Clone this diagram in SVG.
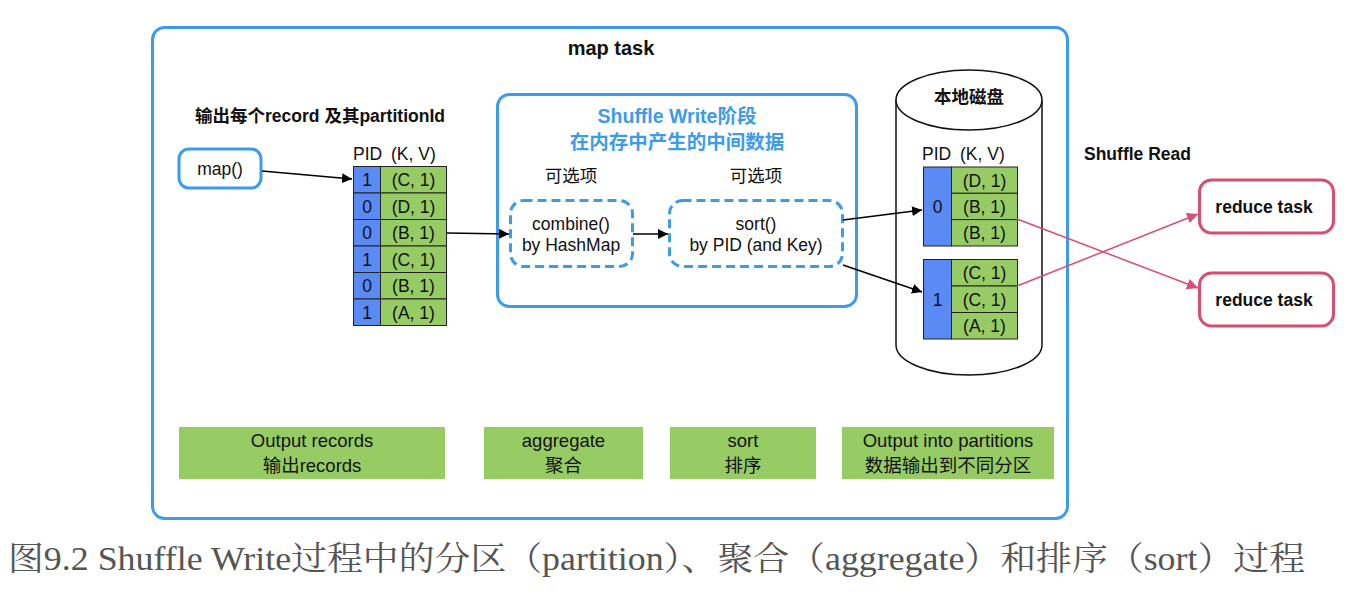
<svg xmlns="http://www.w3.org/2000/svg" width="1350" height="591" viewBox="0 0 1350 591">
<defs>
<style>
text{font-family:"Liberation Sans","Noto Sans CJK SC",sans-serif;fill:#111;}
.b{font-weight:bold;}
.c{text-anchor:middle;}
.t17{font-size:17.5px;}
.t18{font-size:18.5px;}
.frame{fill:#fff;stroke:#3d9be9;stroke-width:3;}
.dash{fill:#fff;stroke:#3d9be9;stroke-width:3;stroke-dasharray:9,5;}
.pid{fill:#5a8bf5;stroke:#222;stroke-width:1;}
.kv{fill:#97cc64;stroke:#222;stroke-width:1;}
.lab{fill:#97cc64;stroke:none;}
.red{fill:#fff;stroke:#d64f73;stroke-width:3;}
.conn{stroke:#000;stroke-width:1.5;fill:none;}
.rconn{stroke:#d64f73;stroke-width:1.5;fill:none;}
</style>
<marker id="ab" viewBox="0 0 10 10" refX="10" refY="5" markerWidth="10" markerHeight="10" markerUnits="userSpaceOnUse" orient="auto"><path d="M0,0L10,5L0,10z" fill="#000"/></marker>
<marker id="ar" viewBox="0 0 10 10" refX="10" refY="5" markerWidth="11" markerHeight="11" markerUnits="userSpaceOnUse" orient="auto"><path d="M0,0L10,5L0,10z" fill="#d64f73"/></marker>
</defs>
<rect width="1350" height="591" fill="#fff"/>

<g id="map-task">
<rect class="frame" x="152.5" y="27.5" width="915" height="491" rx="12"/>
<text class="b c" x="611" y="55" style="font-size:20px">map task</text>
</g>

<g id="output-title">
<text class="b c" x="320" y="122" style="font-size:17.5px">输出每个record 及其partitionId</text>
</g>

<g id="map-fn">
<rect class="frame" x="179" y="149" width="82" height="39" rx="10"/>
<text class="c t17" x="220" y="175">map()</text>
</g>

<g id="records">
<text class="t17" x="353" y="160">PID</text><text class="t17" x="391" y="160">(K, V)</text>
<rect class="pid" x="353.5" y="166.5" width="27" height="26.5"/><rect class="kv" x="380.5" y="166.5" width="66" height="26.5"/>
<rect class="pid" x="353.5" y="193" width="27" height="26.5"/><rect class="kv" x="380.5" y="193" width="66" height="26.5"/>
<rect class="pid" x="353.5" y="219.5" width="27" height="26.5"/><rect class="kv" x="380.5" y="219.5" width="66" height="26.5"/>
<rect class="pid" x="353.5" y="246" width="27" height="26.5"/><rect class="kv" x="380.5" y="246" width="66" height="26.5"/>
<rect class="pid" x="353.5" y="272.5" width="27" height="26.5"/><rect class="kv" x="380.5" y="272.5" width="66" height="26.5"/>
<rect class="pid" x="353.5" y="299" width="27" height="26.5"/><rect class="kv" x="380.5" y="299" width="66" height="26.5"/>
<g class="t17">
<text class="c" x="367" y="186">1</text><text class="c" x="413.5" y="186">(C, 1)</text>
<text class="c" x="367" y="212.5">0</text><text class="c" x="413.5" y="212.5">(D, 1)</text>
<text class="c" x="367" y="239">0</text><text class="c" x="413.5" y="239">(B, 1)</text>
<text class="c" x="367" y="265.5">1</text><text class="c" x="413.5" y="265.5">(C, 1)</text>
<text class="c" x="367" y="292">0</text><text class="c" x="413.5" y="292">(B, 1)</text>
<text class="c" x="367" y="318.5">1</text><text class="c" x="413.5" y="318.5">(A, 1)</text>
</g>
</g>

<g id="shuffle-write">
<rect class="frame" x="497.5" y="94.5" width="359" height="212" rx="12"/>
<text class="b c" x="677" y="123" style="font-size:19.5px;fill:#3d9be9">Shuffle Write阶段</text>
<text class="b c" x="677" y="149" style="font-size:19.5px;fill:#3d9be9">在内存中产生的中间数据</text>
</g>

<g id="combine">
<text class="c t17" x="571" y="182">可选项</text>
<rect class="dash" x="510.5" y="200.5" width="122" height="66" rx="13"/>
<text class="c t17" x="571" y="230">combine()</text>
<text class="c t17" x="571" y="251">by HashMap</text>
</g>

<g id="sort">
<text class="c t17" x="756" y="182">可选项</text>
<rect class="dash" x="669.5" y="200.5" width="173" height="66" rx="13"/>
<text class="c t17" x="756" y="230">sort()</text>
<text class="c t17" x="756" y="251">by PID (and Key)</text>
</g>

<g id="local-disk">
<path d="M896,100V345A73,30 0 0 0 1042,345V100" fill="#fff" stroke="#111" stroke-width="1.5"/>
<ellipse cx="969" cy="100" rx="73" ry="30" fill="#fff" stroke="#111" stroke-width="1.5"/>
<text class="b c t17" x="969" y="103">本地磁盘</text>
<text class="t17" x="922" y="160">PID</text><text class="t17" x="960" y="160">(K, V)</text>
<rect class="pid" x="923.5" y="167" width="28" height="79"/>
<rect class="kv" x="951.5" y="167" width="66" height="26.3"/>
<rect class="kv" x="951.5" y="193.3" width="66" height="26.3"/>
<rect class="kv" x="951.5" y="219.6" width="66" height="26.4"/>
<rect class="pid" x="923.5" y="259.5" width="28" height="79.5"/>
<rect class="kv" x="951.5" y="259.5" width="66" height="26.5"/>
<rect class="kv" x="951.5" y="286" width="66" height="26.5"/>
<rect class="kv" x="951.5" y="312.5" width="66" height="26.5"/>
<g class="t17">
<text class="c" x="937.5" y="213">0</text>
<text class="c" x="984.5" y="186.5">(D, 1)</text>
<text class="c" x="984.5" y="213">(B, 1)</text>
<text class="c" x="984.5" y="239">(B, 1)</text>
<text class="c" x="937.5" y="305.5">1</text>
<text class="c" x="984.5" y="279">(C, 1)</text>
<text class="c" x="984.5" y="305.5">(C, 1)</text>
<text class="c" x="984.5" y="332">(A, 1)</text>
</g>
</g>

<g id="shuffle-read">
<text class="b t17" x="1084" y="160">Shuffle Read</text>
</g>

<g id="reduce-1">
<rect class="red" x="1199.5" y="180" width="134" height="53" rx="12"/>
<text class="b c t17" x="1264" y="213">reduce task</text>
</g>
<g id="reduce-2">
<rect class="red" x="1199.5" y="273" width="134" height="53" rx="12"/>
<text class="b c t17" x="1264" y="306">reduce task</text>
</g>

<g id="stage-labels" class="t18">
<rect class="lab" x="179" y="427" width="266" height="52"/>
<text class="c" x="312" y="447">Output records</text>
<text class="c" x="312" y="472">输出records</text>
<rect class="lab" x="484" y="427" width="159" height="52"/>
<text class="c" x="563.5" y="447">aggregate</text>
<text class="c" x="563.5" y="472">聚合</text>
<rect class="lab" x="670" y="427" width="146" height="52"/>
<text class="c" x="743" y="447">sort</text>
<text class="c" x="743" y="472">排序</text>
<rect class="lab" x="842" y="427" width="212" height="52"/>
<text class="c" x="948" y="447">Output into partitions</text>
<text class="c" x="948" y="472">数据输出到不同分区</text>
</g>

<g id="connectors">
<line class="conn" x1="262" y1="171" x2="352" y2="179" marker-end="url(#ab)"/>
<line class="conn" x1="447" y1="233" x2="509" y2="234" marker-end="url(#ab)"/>
<line class="conn" x1="633" y1="234" x2="668" y2="234" marker-end="url(#ab)"/>
<line class="conn" x1="843" y1="220" x2="922" y2="210" marker-end="url(#ab)"/>
<line class="conn" x1="843" y1="265" x2="922" y2="292" marker-end="url(#ab)"/>
<line class="rconn" x1="1017" y1="219" x2="1198" y2="288" marker-end="url(#ar)"/>
<line class="rconn" x1="1017" y1="286" x2="1198" y2="214" marker-end="url(#ar)"/>
</g>

<g id="caption">
<text x="8" y="570" textLength="1297" lengthAdjust="spacingAndGlyphs" style="font-family:'Liberation Serif','Noto Serif CJK SC','Noto Sans CJK SC',serif;font-size:33px;fill:#555">图9.2 Shuffle Write过程中的分区（partition）、聚合（aggregate）和排序（sort）过程</text>
</g>
</svg>
